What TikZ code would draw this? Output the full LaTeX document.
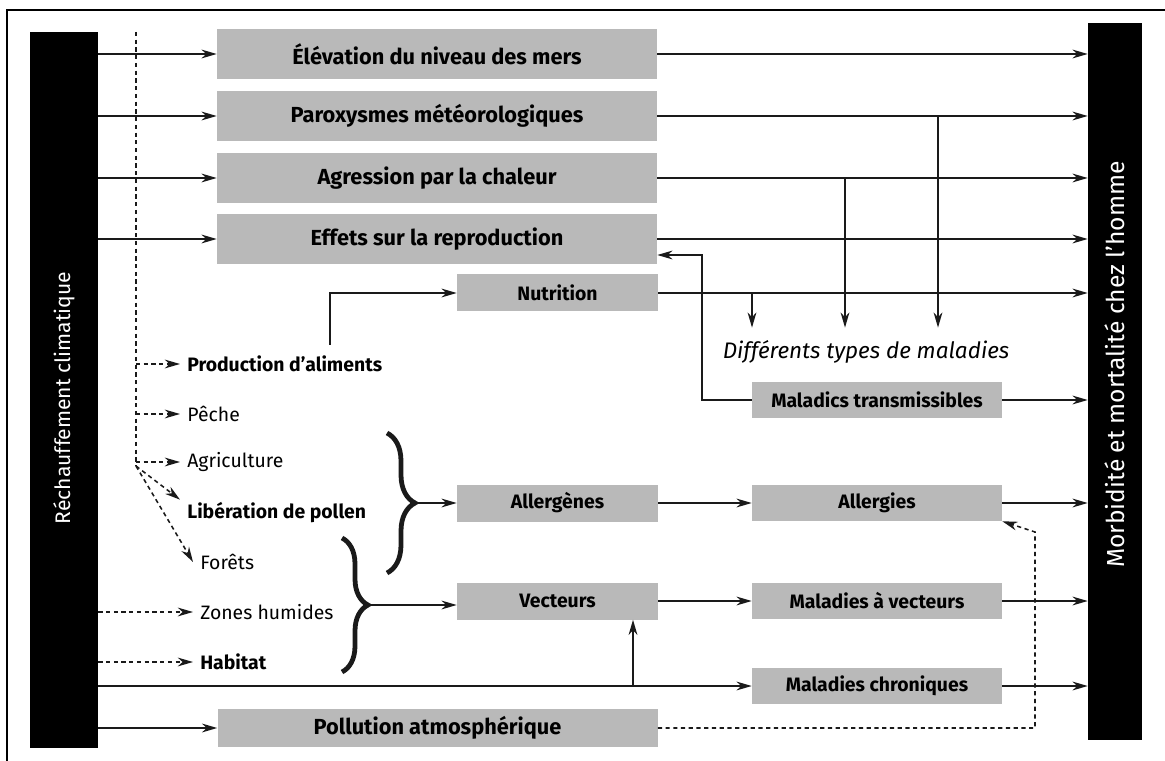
\documentclass[tikz,border=0pt]{standalone}
\usepackage{fontspec}
\setmainfont{Fira Sans}
\usetikzlibrary{positioning,arrows.meta,calc,decorations.pathreplacing}
\definecolor{boxgray}{HTML}{B9B9B9}
\definecolor{ink}{HTML}{1A1A1A}
\newcommand{\px}{0.025cm}

\begin{document}
\begin{tikzpicture}[
    x=0.025cm, y=-0.025cm,
    font=\fontsize{13.8}{16}\selectfont,
    bar/.style={fill=black,text=white,inner sep=0pt,font=\fontsize{15}{18}\selectfont},
    effect/.style={fill=boxgray,minimum width=440*\px,minimum height=50*\px,inner sep=0pt,
                   font=\fontsize{15.5}{18}\selectfont\bfseries},
    mid/.style={effect,minimum width=201*\px,minimum height=37*\px,
                font=\fontsize{13.8}{16}\selectfont\bfseries},
    disease/.style={mid,minimum width=250*\px,minimum height=36*\px},
    item/.style={anchor=west,inner xsep=5pt,inner ysep=2pt},
    itemb/.style={item,font=\fontsize{13.8}{16}\selectfont\bfseries},
    arr/.style={-{Stealth[length=3.8mm,width=2.2mm,inset=1.2mm]},line width=1.2pt,draw=ink},
    dline/.style={line width=1.1pt,draw=ink,dash pattern=on 3pt off 2.5pt},
    darr/.style={arr,line width=1.1pt,dash pattern=on 3pt off 2.5pt},
    brc/.style={decorate,line width=3.4pt,draw=ink}
  ]
  \useasboundingbox (0,0) rectangle (1165,761);
  \draw[line width=1.5pt] (7,761) -- (7,10) -- (1165,10);

  % bars
  \node[bar,minimum width=68*\px,minimum height=716*\px] (hWarm) at (64,390)
    {\rotatebox{90}{Réchauffement climatique\hspace*{0.4cm}}};
  \node[bar,minimum width=54*\px,minimum height=717*\px,font=\fontsize{17.5}{20}\selectfont]
    (hMorb) at (1115,381.5)
    {\rotatebox{90}{\hspace*{0.85cm}Morbidité et mortalité chez l'homme}};

  % direct effects
  \node[effect] (hSea)   at (437,54)  {Élévation du niveau des mers};
  \node[effect] (hStorm) at (437,116) {Paroxysmes météorologiques};
  \node[effect] (hHeat)  at (437,178) {Agression par la chaleur};
  \node[effect] (hRepro) at (437,239) {Effets sur la reproduction};
  \node[effect,minimum height=38*\px] (hPoll) at (437.5,728) {Pollution atmosphérique};

  % intermediate
  \node[mid] (hNutr) at (557.5,293) {Nutrition};
  \node[mid] (hAllg) at (557.5,503) {Allergènes};
  \node[mid] (hVect) at (557.5,601) {Vecteurs};

  % diseases
  \node[font=\fontsize{16}{19}\selectfont\itshape,inner ysep=9pt] (hTypes) at (866,352)
    {Différents types de maladies};
  \node[disease] (hTrans) at (877,400) {Maladics transmissibles};
  \node[disease] (hAlgy)  at (877,503) {Allergies};
  \node[disease] (hVdis)  at (877,601) {Maladies à vecteurs};
  \node[disease] (hChron) at (877,686) {Maladies chroniques};

  % ecosystems
  \node[itemb] (lFood) at (180,364) {Production d'aliments};
  \node[item]  (lFish) at (180,414) {Pêche};
  \node[item]  (lAgri) at (180,462) {Agriculture};
  \node[itemb] (lPoln) at (180,513) {Libération de pollen};
  \node[item]  (lFor)  at (193,562) {Forêts};
  \node[item]  (lWet)  at (193,612) {Zones humides};
  \node[itemb] (lHab)  at (193,662) {Habitat};

  % warming -> effects -> health
  \foreach \n in {hSea,hStorm,hHeat,hRepro,hPoll}
    \draw[arr] (hWarm.east |- \n) -- (\n.west);
  \foreach \n in {hSea,hStorm,hHeat,hRepro,hNutr,hTrans,hAlgy,hVdis,hChron}
    \draw[arr] (\n.east) -- (\n.east -| hMorb.west);

  % towards the types of disease
  \coordinate (dN) at (752,293);
  \coordinate (dH) at (845,178);
  \coordinate (dS) at (938,116);
  \foreach \c in {dN,dH,dS}
    \draw[arr] (\c) -- (\c |- hTypes.north);
  \coordinate (cRet) at (702,255);
  \draw[arr] (hTrans.west) -| (cRet) -- (cRet -| hRepro.east);

  % food
  \coordinate (cFood) at (330,345);
  \draw[arr] (cFood) |- (hNutr.west);

  % ecosystems, dashed
  \coordinate (dTop) at (136,32);
  \coordinate (dBot) at (136,466);
  \draw[dline] (dTop) -- (dBot);
  \foreach \n in {lFood,lFish,lAgri}
    \draw[darr] (dBot |- \n) -- (\n.west);
  \draw[darr] (dBot) -- (lPoln.north west);
  \draw[darr] (dBot) -- (lFor.west);
  \foreach \n in {lWet,lHab}
    \draw[darr] (hWarm.east |- \n) -- (\n.west);

  % braces
  \coordinate (b1t) at (387,433);
  \coordinate (b1b) at (387,573);
  \draw[brc,decoration={brace,amplitude=0.7cm}] (b1t) -- (b1b);
  \coordinate (b1) at (415,503);
  \draw[arr] (b1) -- (hAllg.west);
  \coordinate (b2t) at (342,538);
  \coordinate (b2b) at (342,672);
  \draw[brc,decoration={brace,amplitude=0.65cm}] (b2t) -- (b2b);
  \coordinate (b2) at (368,605);
  \draw[arr] (b2) -- (b2 -| hVect.west);
  \draw[arr] (hAllg.east) -- (hAlgy.west);
  \draw[arr] (hVect.east) -- (hVdis.west);

  % chronic and pollution
  \draw[arr] (hWarm.east |- hChron) -- (hChron.west);
  \coordinate (cV) at (633,686);
  \draw[arr] (cV) -- (cV |- hVect.south);
  \coordinate (cPd) at (1035,532);
  \draw[darr] (hPoll.east) -| (cPd) -- (hAlgy.south east);
\end{tikzpicture}
\end{document}
